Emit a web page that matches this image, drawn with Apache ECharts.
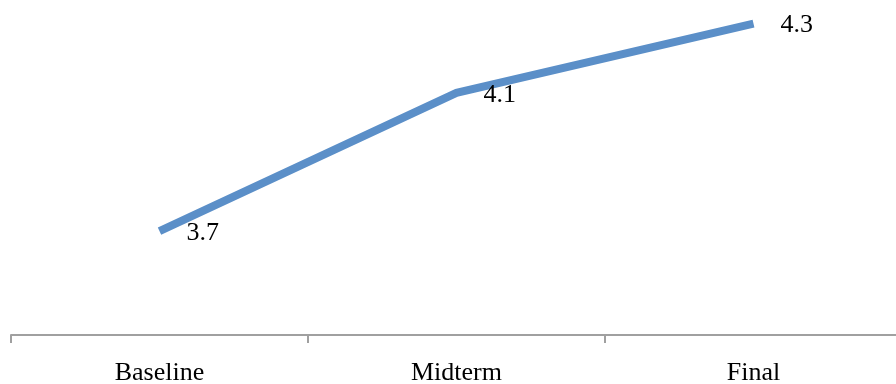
<!DOCTYPE html>
<html>
<head>
<meta charset="utf-8">
<script src="https://cdn.jsdelivr.net/npm/echarts@6/dist/echarts.min.js"></script>
<style>
  html, body { margin: 0; padding: 0; background: #fff; overflow: hidden; width: 896px; height: 384px; }
  /* plot area runs slightly past the top and right edges of the page */
  #chart { width: 902px; height: 397px; margin-top: -11px; }
</style>
</head>
<body>
<div id="chart"></div>
<script>
// Survey score by assessment point
const categories = ['Baseline', 'Midterm', 'Final'];
const scores = [3.7, 4.1, 4.3];

const chart = echarts.init(document.getElementById('chart'));
chart.setOption({
  animation: false,
  backgroundColor: '#ffffff',
  grid: { left: 11, right: 0, top: 0, bottom: 47, containLabel: false },
  xAxis: {
    type: 'category',
    data: categories,
    boundaryGap: true,
    axisLine: { lineStyle: { color: '#a0a0a0', width: 2 } },
    axisTick: { show: true, length: 8, lineStyle: { color: '#a0a0a0', width: 2 } },
    axisLabel: {
      color: '#000',
      fontFamily: 'Liberation Serif',
      fontSize: 26,
      margin: 25
    }
  },
  yAxis: {
    type: 'value',
    min: 3.4,
    max: 4.4,
    show: false,
    splitLine: { show: false }
  },
  series: [{
    type: 'line',
    data: scores,
    symbol: 'circle',
    symbolSize: 0,
    showSymbol: true,
    lineStyle: { color: '#5b8fc8', width: 8, cap: 'butt', join: 'miter' },
    itemStyle: { color: '#5b8fc8' },
    label: {
      show: true,
      position: 'right',
      distance: 27,
      offset: [0, 2],
      color: '#000',
      fontFamily: 'Liberation Serif',
      fontSize: 26
    }
  }]
});
</script>
</body>
</html>
